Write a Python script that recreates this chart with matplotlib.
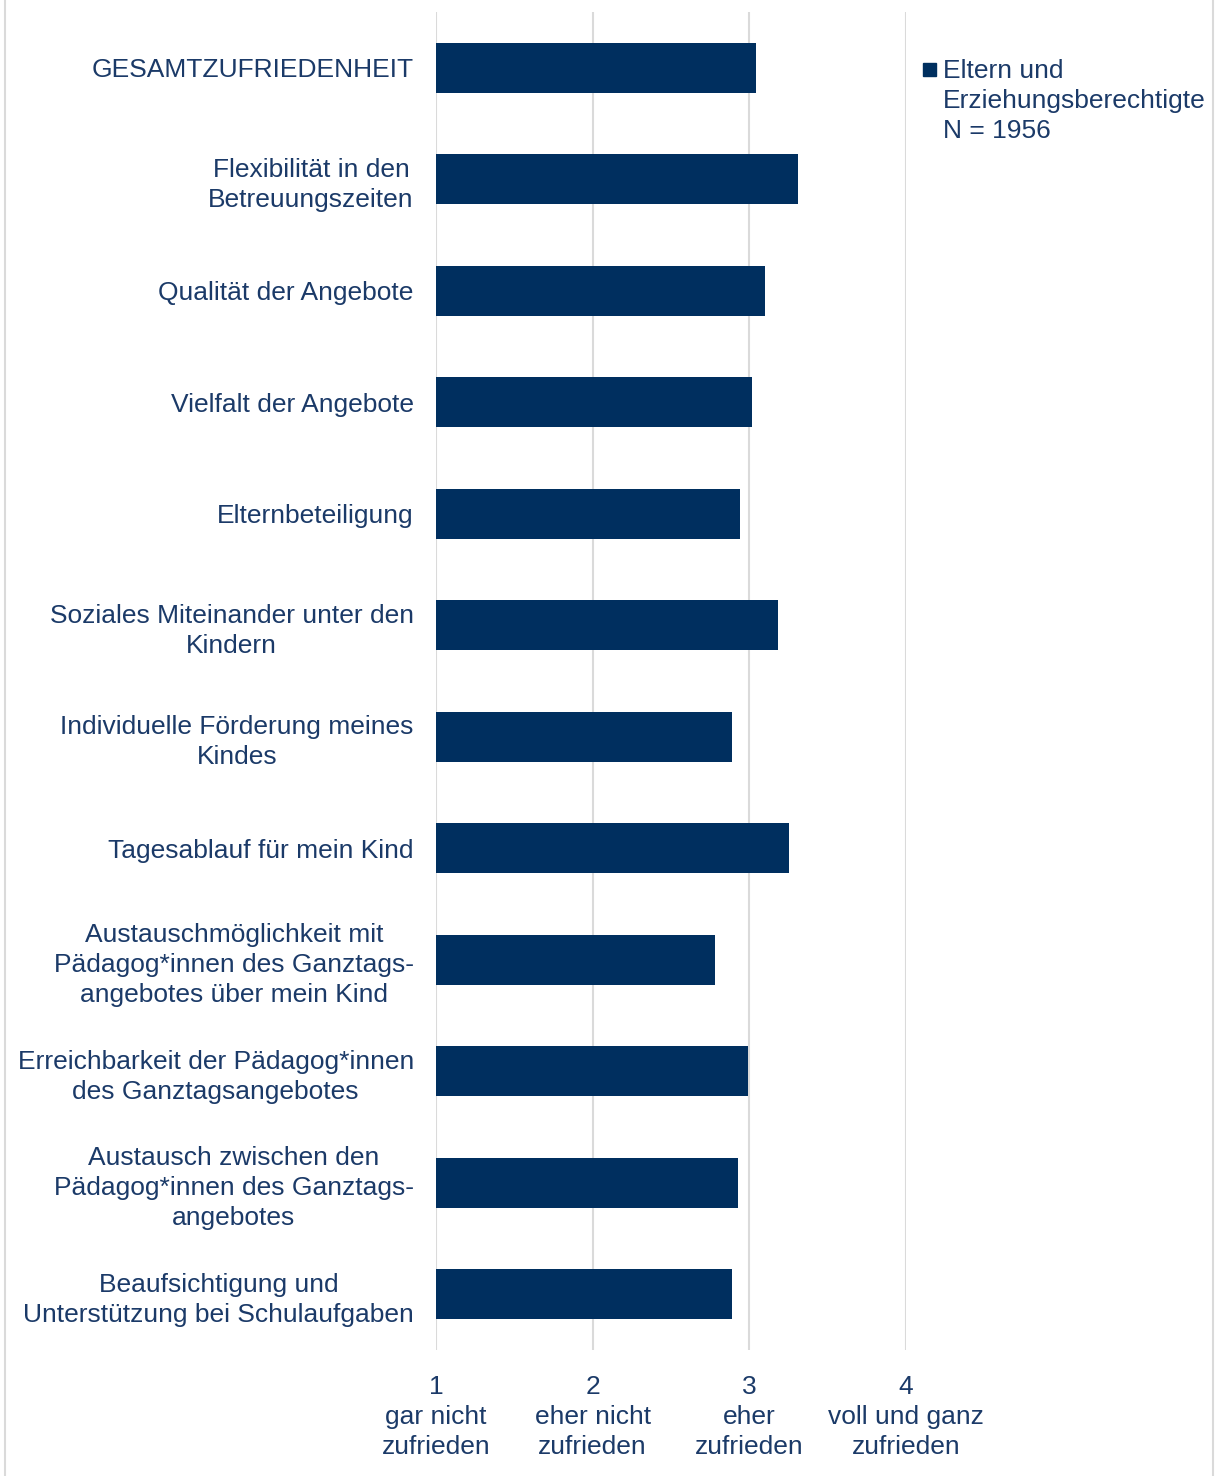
import matplotlib
matplotlib.use("Agg")
import matplotlib.pyplot as plt
from matplotlib.lines import Line2D
from matplotlib.patches import Rectangle

categories = [
    "GESAMTZUFRIEDENHEIT",
    "Flexibilität in den\nBetreuungszeiten",
    "Qualität der Angebote",
    "Vielfalt der Angebote",
    "Elternbeteiligung",
    "Soziales Miteinander unter den\nKindern",
    "Individuelle Förderung meines\nKindes",
    "Tagesablauf für mein Kind",
    "Austauschmöglichkeit mit\nPädagog*innen des Ganztags-\nangebotes über mein Kind",
    "Erreichbarkeit der Pädagog*innen\ndes Ganztagsangebotes",
    "Austausch zwischen den\nPädagog*innen des Ganztags-\nangebotes",
    "Beaufsichtigung und\nUnterstützung bei Schulaufgaben",
]
values = [3.04, 3.31, 3.10, 3.02, 2.94, 3.18, 2.89, 3.25, 2.78, 2.99, 2.93, 2.89]
tick_values = [1, 2, 3, 4]
tick_labels = ["1\ngar nicht\nzufrieden", "2\neher nicht\nzufrieden",
               "3\neher\nzufrieden", "4\nvoll und ganz\nzufrieden"]
legend_label = "Eltern und\nErziehungsberechtigte\nN = 1956"

BAR = "#002F5F"
TXT = "#1B3A68"
GRID = "#DADADA"
FS = 19
LS = 1.32

plt.rcParams['font.family'] = ['Liberation Sans', 'DejaVu Sans']

W, H = 1218, 1476
fig = plt.figure(figsize=(W / 100, H / 100), dpi=100)
ax = fig.add_axes([436 / W, 1 - 1350 / H, 470 / W, 1338 / H])

base = 1.0
ypos = list(range(len(categories)))
ax.barh(ypos, [v - base for v in values], left=base, height=0.45, color=BAR, zorder=3)
ax.set_ylim(len(categories) - 0.5, -0.5)
ax.set_xlim(1, 4)
ax.set_yticks(ypos)
ax.set_yticklabels(categories, fontsize=FS, color=TXT, linespacing=LS, ha='right',
                   multialignment='center')
ax.set_xticks(tick_values)
ax.set_xticklabels(tick_labels, fontsize=FS, color=TXT, linespacing=LS)
ax.tick_params(axis='y', length=0, pad=16)
ax.tick_params(axis='x', length=0, pad=18)
for s in ax.spines.values():
    s.set_visible(False)
ax.xaxis.grid(True, color=GRID, linewidth=1.5, zorder=0)
ax.set_axisbelow(True)

# legend
fig.patches.append(Rectangle((923 / W, 1 - 76 / H), 13 / W, 13 / H,
                             transform=fig.transFigure, color=BAR))
fig.text(943 / W, 1 - 59 / H, legend_label, fontsize=FS, color=TXT,
         va='top', ha='left', linespacing=LS)

# frame lines
fig.lines.append(Line2D([5 / W, 5 / W], [0, 1], transform=fig.transFigure, color=GRID, lw=1.5))
fig.lines.append(Line2D([1213 / W, 1213 / W], [0, 1], transform=fig.transFigure, color=GRID, lw=1.5))

fig.savefig("out.png", dpi=100, facecolor="white")
